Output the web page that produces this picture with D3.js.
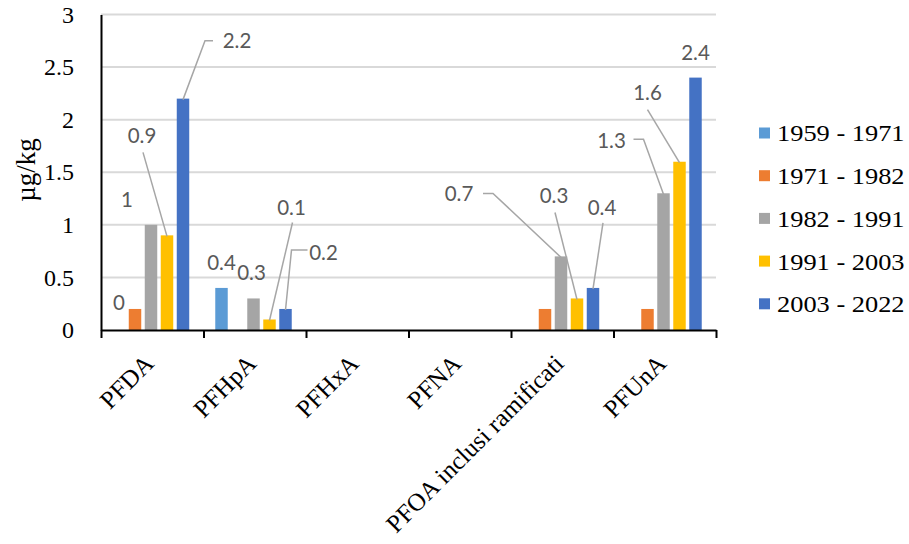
<!DOCTYPE html>
<meta charset="utf-8">
<script src="https://d3js.org/d3.v7.js"></script>
<style>
  body { margin: 0; background: #fff; }
</style>
<div id="chart"></div>
<script>

// categories and series
const categories = ["PFDA", "PFHpA", "PFHxA", "PFNA", "PFOA inclusi ramificati", "PFUnA"];
const seriesNames = ["1959 - 1971", "1971 - 1982", "1982 - 1991", "1991 - 2003", "2003 - 2022"];

// values (µg/kg), one array per period
const v1959 = [0, 0.4, 0, 0, 0, 0];
const v1971 = [0.2, 0, 0, 0, 0.2, 0.2];
const v1982 = [1.0, 0.3, 0, 0, 0.7, 1.3];
const v1991 = [0.9, 0.1, 0, 0, 0.3, 1.6];
const v2003 = [2.2, 0.2, 0, 0, 0.4, 2.4];

// data labels as printed on the chart (null = no label)
const l1959 = [null, "0.4", null, null, null, null];
const l1971 = ["0", null, null, null, null, null];
const l1982 = ["1", "0.3", null, null, "0.7", "1.3"];
const l1991 = ["0.9", "0.1", null, null, "0.3", "1.6"];
const l2003 = ["2.2", "0.2", null, null, "0.4", "2.4"];

const yTicks = [0, 0.5, 1, 1.5, 2, 2.5, 3];

const values = [v1959, v1971, v1982, v1991, v2003];
const labels = [l1959, l1971, l1982, l1991, l2003];
const colors = ["#5B9BD5", "#ED7D31", "#A5A5A5", "#FFC000", "#4472C4"];

// label placement: offset of label centre from bar top, plus leader elbow points (relative to label centre)
const labelPos = {
  "0|1": {d: [0, -25]},
  "1|0": {d: [-16, -6]},
  "2|0": {d: [-24, -25]},
  "3|0": {d: [-25, -100], lead: [[1, 17]]},
  "4|0": {d: [54, -58], lead: [[-24, 0], [-32, 0]]},
  "2|1": {d: [-2, -26]},
  "3|1": {d: [22, -112], lead: [[1, 15]]},
  "4|1": {d: [38, -56], lead: [[-16, -3], [-32, -3]]},
  "2|4": {d: [-102, -63], lead: [[24, 0], [34, 0]]},
  "3|4": {d: [-23, -103], lead: [[1, 17]]},
  "4|4": {d: [9, -80], lead: [[1, 15]]},
  "2|5": {d: [-52, -53], lead: [[22, -1], [32, -1]]},
  "3|5": {d: [-32, -69], lead: [[0, 17]]},
  "4|5": {d: [0, -25]}
};

const W = 909, H = 544;
const plot = {left: 101, right: 716, top: 14.5, bottom: 330};

const svg = d3.select("#chart").append("svg")
  .attr("width", W).attr("height", H);

const x = d3.scaleBand().domain(categories).range([plot.left, plot.right]);
const xs = d3.scaleBand().domain(d3.range(seriesNames.length))
  .range([10, 90]).paddingInner(0.22).paddingOuter(0.11);
const y = d3.scaleLinear().domain([0, 3]).range([plot.bottom, plot.top]);

const serif = "'Liberation Serif', 'Times New Roman', serif";

// gridlines
svg.append("g")
  .selectAll("line")
  .data(yTicks.filter(d => d > 0))
  .join("line")
    .attr("x1", plot.left).attr("x2", plot.right)
    .attr("y1", d => y(d)).attr("y2", d => y(d))
    .attr("stroke", "#d9d9d9").attr("stroke-width", 2);

// bars
const rows = [];
values.forEach((arr, s) => arr.forEach((v, c) => rows.push({s, c, v})));

svg.append("g")
  .selectAll("rect")
  .data(rows.filter(d => d.v > 0))
  .join("rect")
    .attr("x", d => x(categories[d.c]) + xs(d.s))
    .attr("width", xs.bandwidth())
    .attr("y", d => y(d.v))
    .attr("height", d => y(0) - y(d.v))
    .attr("fill", d => colors[d.s]);

// y axis
const yAxis = svg.append("g")
  .attr("transform", `translate(${plot.left},0)`)
  .call(d3.axisLeft(y).tickValues(yTicks).tickSize(0).tickPadding(27).tickFormat(d3.format("")));
yAxis.select(".domain").attr("stroke", "#000").attr("stroke-width", 2);
yAxis.selectAll("text").attr("font-family", serif).attr("font-size", 24).attr("fill", "#000");

// x axis: line with ticks at category boundaries
const xb = d3.scaleLinear().domain([0, categories.length]).range([plot.left, plot.right]);
const xAxis = svg.append("g")
  .attr("transform", `translate(0,${plot.bottom})`)
  .call(d3.axisBottom(xb).ticks(categories.length).tickSize(8).tickSizeOuter(0).tickFormat(""));
xAxis.select(".domain").attr("stroke", "#000").attr("stroke-width", 2);
xAxis.selectAll(".tick line").attr("stroke", "#000").attr("stroke-width", 2);

// category labels, rotated
svg.append("g")
  .selectAll("text")
  .data(categories)
  .join("text")
    .attr("transform", d => `translate(${x(d) + x.bandwidth() / 2 + 3},${plot.bottom + 35}) rotate(-45)`)
    .attr("text-anchor", "end")
    .attr("font-family", serif)
    .attr("font-size", 25)
    .attr("fill", "#000")
    .text(d => d);

// y title
svg.append("text")
  .attr("transform", `translate(35,170) rotate(-90)`)
  .attr("text-anchor", "middle")
  .attr("font-family", serif)
  .attr("font-size", 27)
  .text("µg/kg");

// data labels with leader lines
const lab = rows.filter(d => labels[d.s][d.c] !== null).map(d => {
  const p = labelPos[d.s + "|" + d.c] || {d: [0, -22]};
  const bx = x(categories[d.c]) + xs(d.s) + xs.bandwidth() / 2;
  const by = y(d.v);
  return {text: labels[d.s][d.c], bx, by, lx: bx + p.d[0], ly: by + p.d[1], lead: p.lead};
});

svg.append("g")
  .selectAll("polyline")
  .data(lab.filter(d => d.lead))
  .join("polyline")
    .attr("points", d => d.lead.map(q => [d.lx + q[0], d.ly + q[1]].join(","))
      .concat([[d.bx, d.by + 1].join(",")]).join(" "))
    .attr("fill", "none")
    .attr("stroke", "#a6a6a6")
    .attr("stroke-width", 1.5);

svg.append("g")
  .selectAll("text")
  .data(lab)
  .join("text")
    .attr("x", d => d.lx)
    .attr("y", d => d.ly)
    .attr("dy", "0.36em")
    .attr("text-anchor", "middle")
    .attr("font-family", "Lato, 'Open Sans', sans-serif")
    .attr("font-size", 20.5)
    .attr("fill", "#595959")
    .text(d => d.text);

// legend
const legend = svg.append("g")
  .selectAll("g")
  .data(seriesNames)
  .join("g")
    .attr("transform", (d, i) => `translate(759,${133 + i * 42.7})`);
legend.append("rect")
  .attr("x", 0).attr("y", -5.5).attr("width", 11).attr("height", 11)
  .attr("fill", (d, i) => colors[i]);
legend.append("text")
  .attr("transform", "translate(18,0) scale(1.1,1)")
  .attr("dy", "0.35em")
  .attr("font-family", serif)
  .attr("font-size", 24)
  .attr("fill", "#000")
  .text(d => d);
</script>
